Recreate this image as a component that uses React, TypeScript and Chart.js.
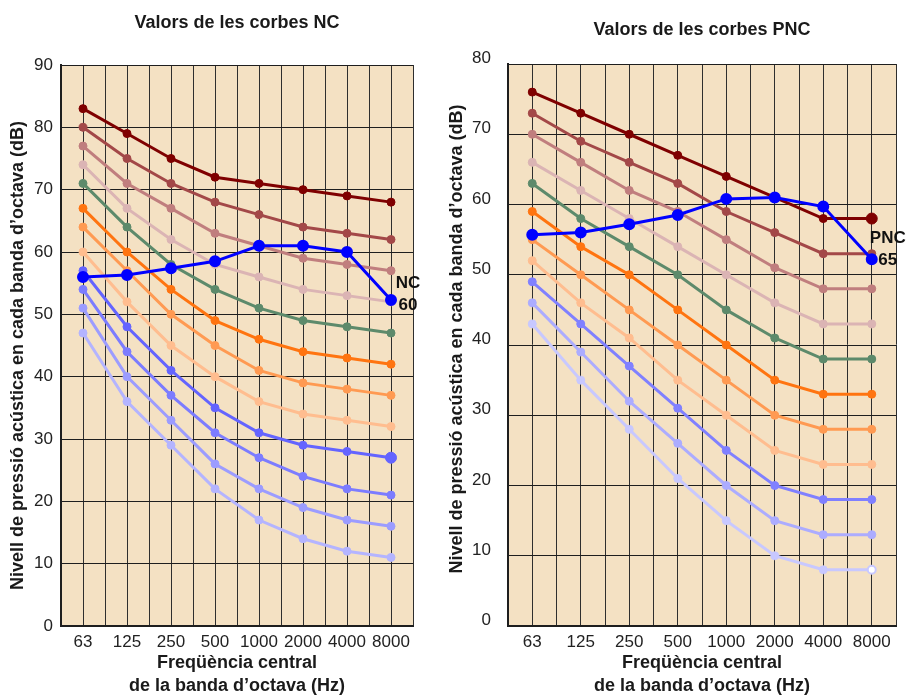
import React, { useEffect, useRef } from "react";
import { Chart, registerables } from "chart.js";

Chart.register(...registerables);

const FONT = "'Liberation Sans', Arial, Helvetica, sans-serif";

// Octave-band centre frequencies (Hz)
const bands = ["63", "125", "250", "500", "1000", "2000", "4000", "8000"];

// NC curves (dB), from NC-70 down to NC-15
const nc70 = [83, 79, 75, 72, 71, 70, 69, 68];
const nc65 = [80, 75, 71, 68, 66, 64, 63, 62];
const nc60 = [77, 71, 67, 63, 61, 59, 58, 57];
const nc55 = [74, 67, 62, 58, 56, 54, 53, 52];
const nc50 = [71, 64, 58, 54, 51, 49, 48, 47];
const nc45 = [67, 60, 54, 49, 46, 44, 43, 42];
const nc40 = [64, 57, 50, 45, 41, 39, 38, 37];
const nc35 = [60, 52, 45, 40, 36, 34, 33, 32];
const nc30 = [57, 48, 41, 35, 31, 29, 28, 27];
const nc25 = [54, 44, 37, 31, 27, 24, 22, 21];
const nc20 = [51, 40, 33, 26, 22, 19, 17, 16];
const nc15 = [47, 36, 29, 22, 17, 14, 12, 11];
const ncMeasured = [56, 56.3, 57.4, 58.5, 61, 61, 60, 52.3];

// PNC curves (dB), from PNC-70 down to PNC-20
const pnc70 = [76, 73, 70, 67, 64, 61, 58, 58];
const pnc65 = [73, 69, 66, 63, 59, 56, 53, 53];
const pnc60 = [70, 66, 62, 59, 55, 51, 48, 48];
const pnc55 = [66, 62, 58, 54, 50, 46, 43, 43];
const pnc50 = [63, 58, 54, 50, 45, 41, 38, 38];
const pnc45 = [59, 54, 50, 45, 40, 35, 33, 33];
const pnc40 = [55, 50, 45, 40, 35, 30, 28, 28];
const pnc35 = [52, 46, 41, 35, 30, 25, 23, 23];
const pnc30 = [49, 43, 37, 31, 25, 20, 18, 18];
const pnc25 = [46, 39, 32, 26, 20, 15, 13, 13];
const pnc20 = [43, 35, 28, 21, 15, 10, 8, 8];
const pncMeasured = [55.7, 56, 57.2, 58.5, 60.8, 61, 59.7, 52.2];

const ncYTicks = [0, 10, 20, 30, 40, 50, 60, 70, 80, 90];
const pncYTicks = [0, 10, 20, 30, 40, 50, 60, 70, 80];

const ncColors = [
  "#7f0000", "#a34848", "#c07e7e", "#dbb4b4", "#5d8a6b", "#ff7410",
  "#ff9a52", "#ffbd8f", "#6464ff", "#7c7cff", "#9c9cff", "#b4b4ff",
];
const pncColors = [
  "#7f0000", "#a34848", "#c07e7e", "#dbb4b4", "#5d8a6b", "#ff7410",
  "#ff9a52", "#ffbd8f", "#8080ff", "#acacff", "#c8c8ff",
];
const measuredColor = "#0000ff";
const plotBg = "#f4e1c3";

const ncSeries = [nc70, nc65, nc60, nc55, nc50, nc45, nc40, nc35, nc30, nc25, nc20, nc15];
const pncSeries = [pnc70, pnc65, pnc60, pnc55, pnc50, pnc45, pnc40, pnc35, pnc30, pnc25, pnc20];

const toPoints = (vals: number[]) => vals.map((v, i) => ({ x: 2 * i + 1, y: v }));

function curveDatasets(series: number[][], colors: string[], bigLast: number[], hollowLast: number[]) {
  return series.map((vals, k) => {
    const n = vals.length;
    return {
      data: toPoints(vals),
      borderColor: colors[k],
      backgroundColor: colors[k],
      pointBackgroundColor: vals.map((_, i) => (i === n - 1 && hollowLast.includes(k) ? "#ffffff" : colors[k])),
      pointBorderColor: colors[k],
      pointBorderWidth: vals.map((_, i) => (i === n - 1 && hollowLast.includes(k) ? 2 : 1)),
      pointRadius: vals.map((_, i) => (i === n - 1 && bigLast.includes(k) ? 5.5 : 4)),
      pointHoverRadius: 4,
      borderWidth: 3,
      tension: 0,
      fill: false,
    };
  });
}

const plotBgPlugin = {
  id: "plotBg",
  beforeDraw(chart: any, _args: any, opts: any) {
    const { ctx, chartArea } = chart;
    if (!chartArea) return;
    ctx.save();
    ctx.fillStyle = opts.color;
    ctx.fillRect(chartArea.left, chartArea.top, chartArea.right - chartArea.left, chartArea.bottom - chartArea.top);
    ctx.restore();
  },
};

const endLabelPlugin = {
  id: "endLabel",
  afterDatasetsDraw(chart: any, _args: any, opts: any) {
    const meta = chart.getDatasetMeta(0);
    const pt = meta.data[meta.data.length - 1];
    if (!pt) return;
    const { ctx } = chart;
    ctx.save();
    ctx.fillStyle = "#111";
    ctx.font = `bold 17px ${FONT}`;
    ctx.textAlign = "center";
    ctx.textBaseline = "middle";
    opts.lines.forEach((line: string, i: number) => {
      ctx.fillText(line, pt.x + opts.dx, pt.y + opts.dys[i]);
    });
    ctx.restore();
  },
};

const yTitlePlugin = {
  id: "yTitle",
  afterDraw(chart: any, _args: any, opts: any) {
    const { ctx, chartArea } = chart;
    const cy = (chartArea.top + chartArea.bottom) / 2 + opts.dy;
    ctx.save();
    ctx.translate(opts.x, cy);
    ctx.rotate(-Math.PI / 2);
    ctx.fillStyle = "#1a1a1a";
    ctx.font = `bold 18px ${FONT}`;
    ctx.textAlign = "center";
    ctx.textBaseline = "middle";
    ctx.fillText(opts.text, 0, 0);
    ctx.restore();
  },
};

type PanelProps = {
  width: number;
  title: string;
  titlePad: { top: number; bottom: number };
  series: number[][];
  colors: string[];
  measured: number[];
  yTicks: number[];
  yAxisWidth: number;
  rightPad: number;
  yTickPad: number;
  yLabelOffset: number;
  bigLast: number[];
  hollowLast: number[];
  endLines: string[];
  endDx: number;
  endDys: number[];
  yTitleX: number;
  yTitleDy: number;
};

function Panel(p: PanelProps) {
  const ref = useRef<HTMLCanvasElement | null>(null);
  useEffect(() => {
    if (!ref.current) return;
    const yMax = p.yTicks[p.yTicks.length - 1];
    const datasets: any[] = [
      {
        data: toPoints(p.measured),
        borderColor: measuredColor,
        backgroundColor: measuredColor,
        pointBackgroundColor: measuredColor,
        pointBorderColor: measuredColor,
        pointRadius: 4.5,
        pointHoverRadius: 4.5,
        borderWidth: 3,
        tension: 0,
        fill: false,
      },
      ...curveDatasets(p.series, p.colors, p.bigLast, p.hollowLast),
    ];
    const chart = new Chart(ref.current, {
      type: "line",
      data: { datasets },
      plugins: [plotBgPlugin, endLabelPlugin, yTitlePlugin],
      options: {
        responsive: false,
        animation: false,
        events: [],
        layout: { padding: { left: 0, right: p.rightPad, top: 0, bottom: 0 } },
        plugins: {
          legend: { display: false },
          tooltip: { enabled: false },
          title: {
            display: true,
            text: p.title,
            fullSize: false,
            color: "#1a1a1a",
            font: { family: FONT, size: 18, weight: "bold" },
            padding: p.titlePad,
          },
          plotBg: { color: plotBg },
          endLabel: { lines: p.endLines, dx: p.endDx, dys: p.endDys },
          yTitle: {
            text: "Nivell de pressió acústica en cada banda d’octava (dB)",
            x: p.yTitleX,
            dy: p.yTitleDy,
          },
        } as any,
        scales: {
          x: {
            type: "linear",
            min: 0,
            max: 2 * bands.length,
            afterFit: (scale: any) => {
              scale.height = 70;
            },
            ticks: {
              stepSize: 1,
              autoSkip: false,
              maxRotation: 0,
              padding: 6,
              color: "#222",
              font: { family: FONT, size: 17 },
              callback: (value: any) => {
                const v = Math.round(Number(value));
                return v % 2 === 1 ? bands[(v - 1) / 2] : "";
              },
            },
            grid: { color: "#2e2e2e", lineWidth: 1, drawTicks: false },
            border: { display: true, color: "#1e1e1e", width: 2 },
            title: {
              display: true,
              text: ["Freqüència central", "de la banda d’octava (Hz)"],
              color: "#1a1a1a",
              font: { family: FONT, size: 18, weight: "bold", lineHeight: "23px" },
              padding: { top: 0, bottom: -2 },
            },
          },
          y: {
            type: "linear",
            min: 0,
            max: yMax,
            afterFit: (scale: any) => {
              scale.width = p.yAxisWidth;
            },
            afterBuildTicks: (scale: any) => {
              scale.ticks = p.yTicks.map((v) => ({ value: v }));
            },
            ticks: {
              padding: p.yTickPad,
              labelOffset: p.yLabelOffset,
              color: "#222",
              font: { family: FONT, size: 17 },
            },
            grid: { color: "#1e1e1e", lineWidth: 1, drawTicks: false },
            border: { display: true, color: "#1e1e1e", width: 2 },
          },
        },
      } as any,
    });
    return () => chart.destroy();
  }, []);
  return <canvas ref={ref} width={p.width} height={696} style={{ display: "block" }} />;
}

export default function App() {
  return (
    <div
      style={{
        position: "fixed",
        left: 0,
        top: 0,
        width: 907,
        height: 696,
        background: "#ffffff",
        overflow: "hidden",
      }}
    >
      <div style={{ position: "absolute", left: 0, top: 0 }}>
        <Panel
          width={445}
          title="Valors de les corbes NC"
          titlePad={{ top: 12.2, bottom: 31.2 }}
          series={ncSeries}
          colors={ncColors}
          measured={ncMeasured}
          yTicks={ncYTicks}
          yAxisWidth={61}
          rightPad={32}
          yTickPad={8}
          yLabelOffset={0}
          bigLast={[8]}
          hollowLast={[]}
          endLines={["NC", "60"]}
          endDx={17}
          endDys={[-17, 5]}
          yTitleX={18.5}
          yTitleDy={10}
        />
      </div>
      <div style={{ position: "absolute", left: 445, top: 0 }}>
        <Panel
          width={462}
          title="Valors de les corbes PNC"
          titlePad={{ top: 19.2, bottom: 23.2 }}
          series={pncSeries}
          colors={pncColors}
          measured={pncMeasured}
          yTicks={pncYTicks}
          yAxisWidth={63}
          rightPad={11}
          yTickPad={17}
          yLabelOffset={-5.5}
          bigLast={[0]}
          hollowLast={[10]}
          endLines={["PNC", "65"]}
          endDx={16}
          endDys={[-21, 1]}
          yTitleX={12.5}
          yTitleDy={-6}
        />
      </div>
    </div>
  );
}
